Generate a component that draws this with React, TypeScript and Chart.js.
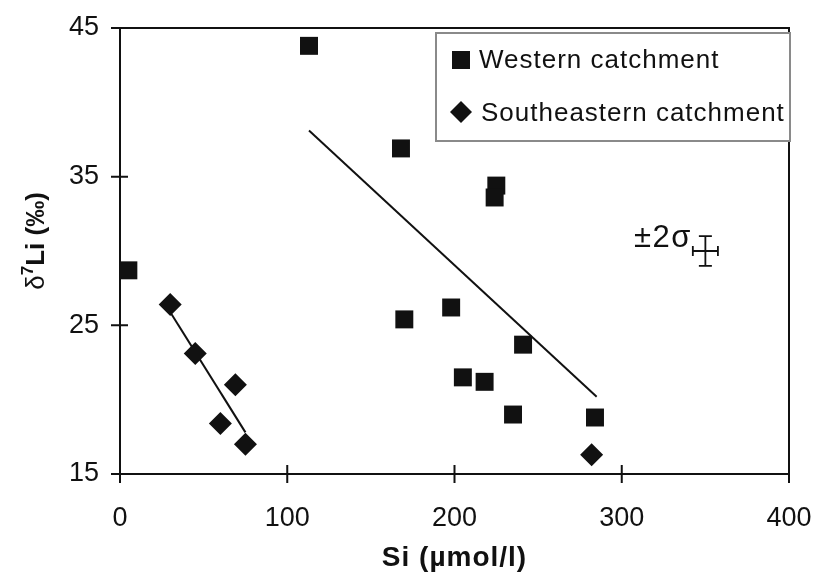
import { useEffect, useRef } from 'react';
import { Chart, registerables } from 'chart.js';

Chart.register(...registerables);

// ---- data ----
const westernSi = [5, 113, 168, 225, 224, 170, 198, 241, 205, 218, 235, 284];
const westernLi = [28.7, 43.8, 36.9, 34.4, 33.6, 25.4, 26.2, 23.7, 21.5, 21.2, 19.0, 18.8];
const southeastSi = [30, 45, 69, 60, 75, 282];
const southeastLi = [26.4, 23.1, 21.0, 18.4, 17.0, 16.3];
const westernFitSi = [113, 285];
const westernFitLi = [38.1, 20.2];
const southeastFitSi = [30, 75];
const southeastFitLi = [25.9, 17.8];
const xTicks = [0, 100, 200, 300, 400];
const yTicks = [15, 25, 35, 45];
const sigmaCenter = [350, 30];
const sigmaErr = [7.5, 1.0];
const sigmaLabelAt = [342, 30.3];
const sigmaLabel = '±2σ';
const legendLabels = ['Western catchment', 'Southeastern catchment'];
const xTitle = 'Si (µmol/l)';
const yTitleParts = ['δ', '7', 'Li (‰)'];

const FONT = '"Liberation Sans", Arial, sans-serif';
const INK = '#111111';

const pairs = (xs: number[], ys: number[]) => xs.map((v, i) => ({ x: v, y: ys[i] }));

const decor = {
  id: 'decor',
  afterDraw(chart: any) {
    const { ctx, chartArea: a, scales } = chart;
    const x = scales.x;
    const y = scales.y;
    ctx.save();
    // frame
    ctx.strokeStyle = INK;
    ctx.lineWidth = 2;
    ctx.strokeRect(a.left, a.top, a.right - a.left, a.bottom - a.top);
    // crossing tick marks
    ctx.beginPath();
    for (const v of yTicks) {
      const py = y.getPixelForValue(v);
      ctx.moveTo(a.left - 9, py);
      ctx.lineTo(a.left + 8, py);
    }
    for (const v of xTicks) {
      const px = x.getPixelForValue(v);
      ctx.moveTo(px, a.bottom - 9);
      ctx.lineTo(px, a.bottom + 9);
    }
    ctx.stroke();

    // ±2σ annotation
    ctx.fillStyle = INK;
    ctx.font = `31px ${FONT}`;
    (ctx as any).letterSpacing = '1.5px';
    ctx.textAlign = 'right';
    ctx.textBaseline = 'alphabetic';
    ctx.fillText(sigmaLabel, x.getPixelForValue(sigmaLabelAt[0]), y.getPixelForValue(sigmaLabelAt[1]));
    (ctx as any).letterSpacing = '0px';
    const cx = x.getPixelForValue(sigmaCenter[0]);
    const cy = y.getPixelForValue(sigmaCenter[1]);
    const x0 = x.getPixelForValue(sigmaCenter[0] - sigmaErr[0]);
    const x1 = x.getPixelForValue(sigmaCenter[0] + sigmaErr[0]);
    const y0 = y.getPixelForValue(sigmaCenter[1] - sigmaErr[1]);
    const y1 = y.getPixelForValue(sigmaCenter[1] + sigmaErr[1]);
    ctx.lineWidth = 1.8;
    ctx.beginPath();
    ctx.moveTo(x0, cy); ctx.lineTo(x1, cy);
    ctx.moveTo(x0, cy - 5); ctx.lineTo(x0, cy + 5);
    ctx.moveTo(x1, cy - 5); ctx.lineTo(x1, cy + 5);
    ctx.moveTo(cx, y0); ctx.lineTo(cx, y1);
    ctx.moveTo(cx - 6.5, y0); ctx.lineTo(cx + 6.5, y0);
    ctx.moveTo(cx - 6.5, y1); ctx.lineTo(cx + 6.5, y1);
    ctx.stroke();

    // legend
    const lx = 436, ly = a.top + 5, lw = a.right + 1 - 436, lh = 108;
    ctx.fillStyle = '#fff';
    ctx.fillRect(lx, ly, lw, lh);
    ctx.strokeStyle = '#8a8a8a';
    ctx.lineWidth = 2;
    ctx.strokeRect(lx, ly, lw, lh);
    ctx.fillStyle = INK;
    ctx.fillRect(452, 51, 18, 18);
    ctx.beginPath();
    ctx.moveTo(461, 101); ctx.lineTo(472, 112); ctx.lineTo(461, 123); ctx.lineTo(450, 112);
    ctx.closePath();
    ctx.fill();
    ctx.font = `26px ${FONT}`;
    (ctx as any).letterSpacing = '1px';
    ctx.textAlign = 'left';
    ctx.fillText(legendLabels[0], 479, 68);
    ctx.fillText(legendLabels[1], 481, 121);

    // x title
    ctx.font = `bold 28px ${FONT}`;
    ctx.textAlign = 'center';
    ctx.fillText(xTitle, (a.left + a.right) / 2, 566);
    (ctx as any).letterSpacing = '0px';

    // y title (rotated, mixed styles)
    ctx.translate(33, (a.top + a.bottom) / 2 - 10);
    ctx.rotate(-Math.PI / 2);
    ctx.textAlign = 'left';
    const f0 = `26px ${FONT}`;
    const f1 = `bold 17px ${FONT}`;
    const f2 = `bold 26px ${FONT}`;
    ctx.font = f0; const w0 = ctx.measureText(yTitleParts[0]).width;
    ctx.font = f1; const w1 = ctx.measureText(yTitleParts[1]).width;
    ctx.font = f2; const w2 = ctx.measureText(yTitleParts[2]).width;
    let u = -(w0 + w1 + w2) / 2;
    ctx.font = f0; ctx.fillText(yTitleParts[0], u, 11); u += w0;
    ctx.font = f1; ctx.fillText(yTitleParts[1], u, 0); u += w1;
    ctx.font = f2; ctx.fillText(yTitleParts[2], u, 11);
    ctx.restore();
  },
};

export default function App() {
  const ref = useRef<HTMLCanvasElement>(null);
  useEffect(() => {
    document.body.style.margin = '0';
    const canvas = ref.current!;
    const chart = new Chart(canvas, {
      type: 'scatter',
      data: {
        datasets: [
          {
            label: legendLabels[0],
            data: pairs(westernSi, westernLi),
            pointStyle: 'rect',
            pointRadius: 12.7,
            backgroundColor: INK,
            borderWidth: 0,
          },
          {
            label: legendLabels[1],
            data: pairs(southeastSi, southeastLi),
            pointStyle: 'rectRot',
            pointRadius: 11.5,
            backgroundColor: INK,
            borderWidth: 0,
          },
          {
            label: 'western fit',
            data: pairs(westernFitSi, westernFitLi),
            showLine: true,
            pointRadius: 0,
            borderColor: INK,
            borderWidth: 2,
          },
          {
            label: 'southeastern fit',
            data: pairs(southeastFitSi, southeastFitLi),
            showLine: true,
            pointRadius: 0,
            borderColor: INK,
            borderWidth: 2,
          },
        ],
      },
      options: {
        responsive: false,
        animation: false,
        layout: { padding: { left: 0, top: 28, right: 28, bottom: 0 } },
        plugins: { legend: { display: false }, tooltip: { enabled: false } },
        scales: {
          x: {
            type: 'linear',
            min: 0,
            max: 400,
            afterFit: (s: any) => { s.height = 99; s.paddingLeft = 0; s.paddingRight = 0; },
            afterBuildTicks: (s: any) => { s.ticks = xTicks.map((v) => ({ value: v })); },
            ticks: { font: { family: FONT, size: 27 }, color: INK, padding: 28, maxRotation: 0 },
            grid: { display: false, drawTicks: false },
            border: { display: false },
          },
          y: {
            type: 'linear',
            min: 15,
            max: 45,
            afterFit: (s: any) => { s.width = 120; s.paddingTop = 0; s.paddingBottom = 0; },
            afterBuildTicks: (s: any) => { s.ticks = yTicks.map((v) => ({ value: v })); },
            ticks: { font: { family: FONT, size: 27 }, color: INK, padding: 21 },
            grid: { display: false, drawTicks: false },
            border: { display: false },
          },
        },
      },
      plugins: [decor],
    });
    return () => chart.destroy();
  }, []);
  return (
    <div style={{ width: 817, height: 573 }}>
      <canvas ref={ref} width={817} height={573} style={{ display: 'block' }} />
    </div>
  );
}
